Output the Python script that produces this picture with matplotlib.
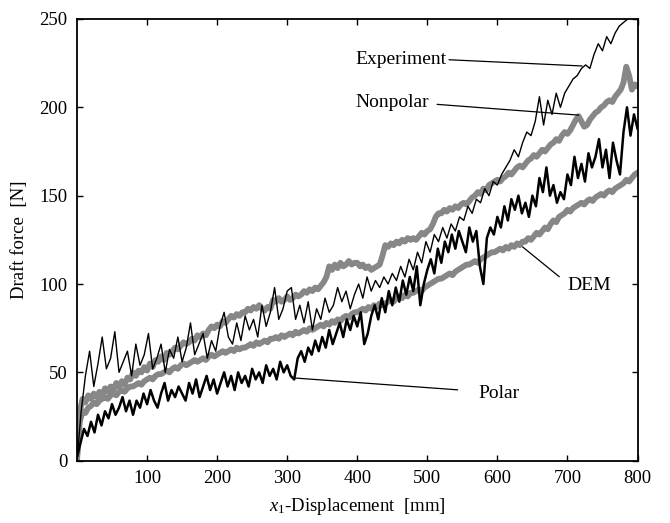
import matplotlib
matplotlib.use("Agg")
import matplotlib.pyplot as plt
import numpy as np

plt.rcParams['font.family'] = ['Liberation Serif', 'DejaVu Serif']
plt.rcParams['mathtext.fontset'] = 'custom'
plt.rcParams['mathtext.rm'] = 'Liberation Serif'
plt.rcParams['mathtext.it'] = 'Liberation Serif:italic'

# ---------------- data ----------------
exp_x = np.arange(0, 793, 6)
exp_y = [0, 28, 48, 62, 42, 55, 70, 52, 58, 73, 50, 56, 62, 48, 66, 54, 60, 72, 52, 58,
         66, 50, 63, 58, 70, 56, 64, 78, 60, 66, 72, 58, 68, 62, 76, 84, 70, 66, 78, 68,
         82, 74, 80, 70, 88, 76, 84, 98, 80, 86, 96, 98, 80, 88, 78, 90, 74, 86, 80, 92,
         84, 88, 98, 90, 96, 86, 94, 100, 92, 104, 96, 102, 98, 104, 100, 106, 102, 110, 104, 114,
         108, 118, 112, 124, 118, 128, 124, 132, 126, 134, 130, 138, 136, 144, 140, 148, 146, 154, 150, 158,
         156, 162, 166, 170, 176, 172, 180, 186, 184, 192, 206, 190, 204, 196, 208, 200, 208, 212, 216, 218,
         222, 224, 222, 230, 236, 232, 240, 236, 242, 246, 248, 250, 254]

polar_x = np.arange(0, 801, 5)
polar_y = [2, 10, 18, 14, 22, 16, 26, 20, 28, 24, 32, 26, 30, 36, 28, 34, 26, 34, 30, 38,
           32, 40, 34, 30, 38, 44, 34, 40, 36, 42, 38, 34, 44, 38, 46, 36, 42, 48, 40, 46,
           38, 44, 50, 42, 48, 40, 50, 44, 48, 42, 52, 46, 50, 44, 54, 48, 52, 46, 56, 50,
           54, 48, 46, 58, 62, 56, 64, 60, 68, 62, 70, 64, 74, 66, 72, 78, 70, 80, 74, 82,
           76, 84, 66, 72, 82, 88, 80, 92, 84, 96, 88, 98, 90, 102, 94, 104, 96, 110, 88, 100,
           108, 114, 106, 120, 112, 124, 118, 128, 120, 130, 124, 118, 132, 124, 130, 110, 100, 126, 132, 128,
           138, 132, 144, 136, 148, 142, 150, 140, 146, 138, 150, 144, 160, 152, 166, 150, 156, 146, 152, 148,
           162, 156, 172, 160, 168, 158, 174, 166, 172, 182, 166, 176, 160, 180, 170, 162, 186, 200, 184, 196,
           188]

nonpolar_x = np.arange(0, 801, 4)
nonpolar_y = [2, 28, 35, 33, 37, 35, 38, 36, 39, 37,
              41, 39, 42, 40, 44, 42, 45, 43, 47, 46,
              50, 48, 51, 50, 53, 51, 55, 53, 57, 56,
              59, 57, 61, 60, 62, 64, 63, 65, 67, 66,
              67, 69, 68, 71, 70, 72, 71, 74, 76, 75,
              77, 76, 79, 78, 80, 82, 81, 83, 82, 84,
              84, 86, 85, 87, 86, 88, 86, 85, 87, 86,
              91, 90, 92, 90, 91, 93, 91, 92, 94, 93,
              94, 96, 95, 97, 96, 98, 97, 99, 101, 104,
              110, 108, 111, 109, 112, 110, 111, 113, 111, 112,
              112, 110, 111, 109, 110, 108, 109, 110, 111, 116,
              122, 121, 123, 122, 124, 123, 125, 124, 126, 125,
              126, 125, 127, 129, 128, 130, 131, 134, 138, 140,
              140, 142, 141, 143, 142, 144, 143, 145, 146, 145,
              147, 149, 150, 152, 151, 154, 153, 156, 157, 158,
              159, 158, 160, 161, 163, 162, 164, 166, 167, 166,
              168, 170, 171, 173, 172, 174, 176, 175, 177, 179,
              180, 182, 181, 184, 186, 185, 187, 190, 193, 195,
              192, 189, 190, 193, 195, 197, 198, 200, 201, 203,
              204, 203, 206, 208, 210, 214, 223, 218, 210, 213,
              212]

dem_x = np.arange(0, 801, 4)
dem_y = [0, 22, 28, 27, 30, 31, 33, 32, 34, 35,
         36, 35, 37, 38, 37, 39, 40, 39, 41, 42,
         42, 43, 44, 43, 45, 46, 47, 46, 48, 49,
         49, 50, 51, 50, 52, 53, 52, 54, 55, 54,
         55, 56, 57, 56, 57, 58, 57, 59, 60, 59,
         60, 61, 62, 61, 62, 63, 62, 64, 63, 64,
         64, 65, 66, 65, 67, 66, 67, 68, 67, 69,
         69, 70, 69, 71, 70, 71, 72, 71, 73, 72,
         73, 74, 73, 75, 74, 75, 76, 77, 76, 78,
         77, 79, 78, 80, 79, 81, 82, 81, 83, 84,
         84, 85, 86, 85, 87, 86, 88, 87, 89, 88,
         89, 90, 91, 90, 92, 93, 92, 94, 93, 95,
         95, 96, 97, 96, 98, 99, 100, 101, 102, 103,
         103, 104, 105, 106, 105, 107, 108, 109, 110, 111,
         111, 112, 113, 112, 114, 115, 116, 117, 118, 118,
         119, 120, 119, 121, 120, 122, 121, 123, 122, 124,
         124, 126, 125, 127, 129, 128, 130, 132, 131, 134,
         136, 135, 138, 139, 140, 142, 141, 143, 144, 145,
         146, 145, 147, 148, 147, 149, 150, 151, 150, 152,
         153, 152, 154, 155, 156, 157, 159, 158, 160, 162,
         163]

x_ticks = [100, 200, 300, 400, 500, 600, 700, 800]
y_ticks = [0, 50, 100, 150, 200, 250]

gray = '#878787'

fig = plt.figure(figsize=(6.70, 5.23), dpi=100)
ax = fig.add_axes([0.1149, 0.1191, 0.8366, 0.8446])

ax.plot(dem_x, dem_y, color=gray, lw=4.2, zorder=2)
ax.plot(nonpolar_x, nonpolar_y, color=gray, lw=4.2, zorder=2)
ax.plot(polar_x, polar_y, color='black', lw=1.8, zorder=3)
ax.plot(exp_x, exp_y, color='black', lw=1.0, zorder=3)

ax.set_xlim(0, 800)
ax.set_ylim(0, 250)
ax.set_xticks(x_ticks)
ax.set_yticks(y_ticks)
ax.tick_params(direction='in', top=True, right=True, length=4, width=1, labelsize=13.5, pad=7)
for s in ax.spines.values():
    s.set_linewidth(1.3)

ax.set_xlabel('$x_1$-Displacement  [mm]', fontsize=13.5, labelpad=6)
ax.set_ylabel('Draft force  [N]', fontsize=13.5, labelpad=8)

lk = dict(arrowstyle='-', lw=0.9, color='black', shrinkB=0)
ax.annotate('Experiment', xy=(721, 223.4), xytext=(397, 227), ha='left', va='center', fontsize=14,
            arrowprops=dict(relpos=(1, 0.5), shrinkA=0, **lk))
ax.annotate('Nonpolar', xy=(716, 195.6), xytext=(397, 203), ha='left', va='center', fontsize=14,
            arrowprops=dict(relpos=(1, 0.4), shrinkA=4, **lk))
ax.annotate('DEM', xy=(636, 121), xytext=(700, 99.4), ha='left', va='center', fontsize=14,
            arrowprops=dict(relpos=(0, 0.6), shrinkA=5, **lk))
ax.annotate('Polar', xy=(311, 46.8), xytext=(573, 38.3), ha='left', va='center', fontsize=14,
            arrowprops=dict(relpos=(0, 0.6), shrinkA=13, **lk))

fig.savefig('out.png', dpi=100)
